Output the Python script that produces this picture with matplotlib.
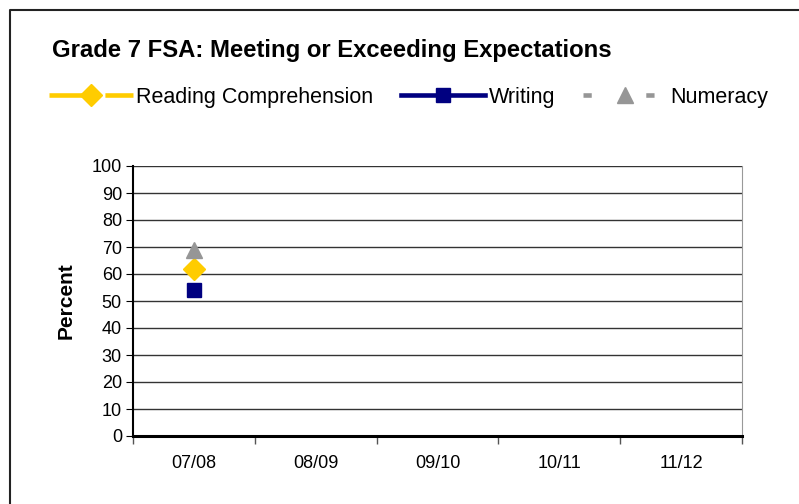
import numpy as np
import matplotlib
matplotlib.use("Agg")
from matplotlib import pyplot as plt
from matplotlib.lines import Line2D

plt.rcParams['font.family'] = ['Liberation Sans', 'DejaVu Sans']

years = ['07/08', '08/09', '09/10', '10/11', '11/12']
reading = [62, np.nan, np.nan, np.nan, np.nan]
writing = [54, np.nan, np.nan, np.nan, np.nan]
numeracy = [69, np.nan, np.nan, np.nan, np.nan]

fig = plt.figure(figsize=(7.99, 5.04), dpi=100)
ax = fig.add_axes([133 / 799, 1 - 436 / 504, 609 / 799, 270 / 504])
x = np.arange(len(years))

ax.plot(x, reading, color='#FFCC00', lw=3.3, ls=(0, (10.6, 1.6)), marker='D', ms=11,
        label='Reading Comprehension')
ax.plot(x, writing, color='#000080', lw=3.3, marker='s', ms=10.5, label='Writing')
ax.plot(x, numeracy, color='#969696', lw=3.3, ls=(0, (1.8, 11.9)), marker='^', ms=11,
        label='Numeracy')

ax.set_xlim(-0.5, len(years) - 0.5)
ax.set_ylim(0, 100)
ax.set_yticks(range(0, 101, 10))
ax.set_xticks(x)
ax.set_xticklabels(years)
ax.set_xticks(np.arange(-0.5, len(years)), minor=True)
ax.tick_params(axis='x', which='major', length=0, pad=14, labelsize=13)
ax.tick_params(axis='x', which='minor', length=6, direction='out', width=1, color='#555555')
ax.tick_params(axis='y', length=5, direction='out', labelsize=13, pad=3)
ax.yaxis.grid(True, color='#333333', lw=1)
ax.set_axisbelow(True)
ax.spines['top'].set_visible(False)
ax.spines['right'].set_color('#999999')
ax.spines['left'].set_linewidth(1.5)
ax.spines['bottom'].set_linewidth(2.2)
ax.set_ylabel('Percent', fontsize=15, fontweight='bold')
ax.yaxis.set_label_coords(-(133 - 76) / 609, 0.5)

fig.text(52 / 799, 1 - 51 / 504, 'Grade 7 FSA: Meeting or Exceeding Expectations',
         fontsize=17.2, fontweight='bold', va='center')
fig.legend(loc='center left', bbox_to_anchor=(49 / 799, 1 - 97 / 504), ncol=3, frameon=False,
           fontsize=15.5, handlelength=3.9, handletextpad=0.15, columnspacing=1.3,
           borderaxespad=0, borderpad=0)

# outer frame: only top and left edges show inside the image
fig.add_artist(Line2D([10 / 799, 10 / 799, 1], [0, 1 - 10 / 504, 1 - 10 / 504],
                      transform=fig.transFigure, color='#222222', lw=1.5))
fig.savefig('out.png', dpi=100)
